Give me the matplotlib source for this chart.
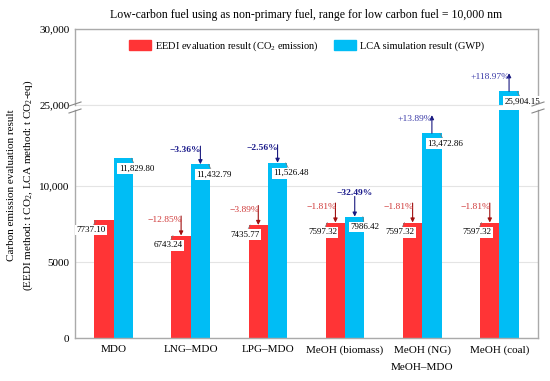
import matplotlib
matplotlib.use('Agg')
import matplotlib.pyplot as plt
from matplotlib.patches import Patch

plt.rcParams['font.family'] = ['Liberation Serif', 'DejaVu Serif']
plt.rcParams['mathtext.fontset'] = 'custom'
plt.rcParams['mathtext.rm'] = 'Liberation Serif'
plt.rcParams['mathtext.it'] = 'Liberation Serif:italic'

# data
categories = ['MDO', 'LNG\u2013MDO', 'LPG\u2013MDO', 'MeOH (biomass)', 'MeOH (NG)', 'MeOH (coal)']
eedi = [7737.10, 6743.24, 7435.77, 7597.32, 7597.32, 7597.32]
lca = [11829.80, 11432.79, 11526.48, 7986.42, 13472.86, 25904.15]
eedi_change = [None, '\u221212.85%', '\u22123.89%', '\u22121.81%', '\u22121.81%', '\u22121.81%']
lca_change = [None, '\u22123.36%', '\u22122.56%', '\u221232.49%', '+13.89%', '+118.97%']

red = '#FF3436'
blue = '#00BDF5'
grey = '#AAAAAA'

fig = plt.figure(figsize=(5.5, 3.81), dpi=100)
L, R = 75 / 550, 538 / 550
ax_top = fig.add_axes([L, 1 - 105 / 381, R - L, 76 / 381])
ax_bot = fig.add_axes([L, 1 - 338 / 381, R - L, 228 / 381])

w = 0.25
x = list(range(len(categories)))
for ax in (ax_top, ax_bot):
    ax.bar([i - w / 2 for i in x], eedi, w, color=red, zorder=2)
    ax.bar([i + w / 2 for i in x], lca, w, color=blue, zorder=2)
    ax.set_xlim(-0.5, len(categories) - 0.5)
    for s in ax.spines.values():
        s.set_color(grey)
        s.set_linewidth(1.0)
    ax.tick_params(axis='both', length=0, labelsize=8, pad=4)
    ax.grid(axis='y', color='#E4E4E4', linewidth=0.8, zorder=0)

ax_top.set_ylim(25000, 30000)
ax_top.set_yticks([25000, 30000], ['25,000', '30,000'])
ax_top.set_xticks([])
ax_top.spines['bottom'].set_visible(False)
ax_top.axhline(25000, color='#E4E4E4', linewidth=0.8, clip_on=False, zorder=0)

ax_bot.set_ylim(0, 15000)
ax_bot.set_yticks([0, 5000, 10000], ['0', '5000', '10,000'])
ax_bot.set_xticks(x, categories)
ax_bot.tick_params(axis='x', pad=5)
ax_bot.spines['top'].set_visible(False)

fig.text(422 / 550, 1 - 367 / 381, 'MeOH\u2013MDO', ha='center', va='center', fontsize=8)

# break marks
for xx in (L, R):
    for yy in (1 - 104 / 381, 1 - 111 / 381):
        fig.add_artist(plt.Line2D([xx - 6 / 550, xx + 6 / 550], [yy - 2 / 381, yy + 2 / 381],
                                  color='#888888', linewidth=0.8))


def fmt(v):
    return f'{v:,.2f}' if v >= 10000 else f'{v:.2f}'


def pick(v):
    return ax_top if v >= 25000 else ax_bot


for i in x:
    # value labels
    xr = i - w / 2
    ax = pick(eedi[i])
    ax.annotate(fmt(eedi[i]), xy=(xr - w / 2 + 0.02, eedi[i]), xytext=(7, -7),
                textcoords='offset points', ha='right', va='center', fontsize=6.5,
                bbox=dict(boxstyle='square,pad=0.15', fc='white', ec='none'),
                arrowprops=dict(arrowstyle='-', color='#777777', lw=0.5, shrinkA=0, shrinkB=0),
                zorder=5)
    xb = i + w / 2
    ax = pick(lca[i])
    ax.annotate(fmt(lca[i]), xy=(xb + w / 2 - 0.02, lca[i]), xytext=(-9, -7.5),
                textcoords='offset points', ha='left', va='center', fontsize=6.5,
                bbox=dict(boxstyle='square,pad=0.15', fc='white', ec='none'),
                arrowprops=dict(arrowstyle='-', color='#777777', lw=0.5, shrinkA=0, shrinkB=0),
                annotation_clip=False, zorder=5)

    # percent changes
    if eedi_change[i]:
        ax = pick(eedi[i])
        ax.annotate('', xy=(xr, eedi[i]), xytext=(0, 14), textcoords='offset points',
                    arrowprops=dict(arrowstyle='-|>', color='#A01010', lw=0.8,
                                    mutation_scale=6, shrinkA=0, shrinkB=0))
        ax.annotate(eedi_change[i], xy=(xr, eedi[i]), xytext=(0.5, 11),
                    textcoords='offset points', ha='right', va='center',
                    fontsize=6.8, color='#D03A3A')
    if lca_change[i]:
        ax = pick(lca[i])
        txt = lca_change[i]
        if txt.startswith('+'):
            ax.annotate('', xy=(xb, lca[i]), xytext=(0, 13), textcoords='offset points',
                        arrowprops=dict(arrowstyle='<|-', color='#1A1A80', lw=0.8,
                                        mutation_scale=6, shrinkA=0, shrinkB=0))
            ax.annotate(txt, xy=(xb, lca[i]), xytext=(0.5, 10.5),
                        textcoords='offset points', ha='right', va='center',
                        fontsize=6.8, color='#3C3CA8', annotation_clip=False)
        elif i == 3:
            ax.annotate('', xy=(xb, lca[i]), xytext=(0, 14.5), textcoords='offset points',
                        arrowprops=dict(arrowstyle='-|>', color='#1A1A80', lw=0.8,
                                        mutation_scale=6, shrinkA=0, shrinkB=0))
            ax.annotate(txt, xy=(xb, lca[i]), xytext=(0, 17),
                        textcoords='offset points', ha='center', va='center',
                        fontsize=6.8, color='#1C1C8C', fontweight='bold')
        else:
            ax.annotate('', xy=(xb, lca[i]), xytext=(0, 13), textcoords='offset points',
                        arrowprops=dict(arrowstyle='-|>', color='#1A1A80', lw=0.8,
                                        mutation_scale=6, shrinkA=0, shrinkB=0))
            ax.annotate(txt, xy=(xb, lca[i]), xytext=(0.5, 10.5),
                        textcoords='offset points', ha='right', va='center',
                        fontsize=6.8, color='#1C1C8C', fontweight='bold')

handles = [Patch(color=red, label='EEDI evaluation result (CO$_2$ emission)'),
           Patch(color=blue, label='LCA simulation result (GWP)')]
ax_top.legend(handles=handles, loc='upper center', bbox_to_anchor=(0.5, 1.0), ncol=2,
              frameon=False, fontsize=7.5, handlelength=2.1, handleheight=1.0,
              handletextpad=0.4, columnspacing=1.5, borderaxespad=0.6)

fig.text(306 / 550, 1 - 15 / 381,
         'Low-carbon fuel using as non-primary fuel, range for low carbon fuel = 10,000 nm',
         ha='center', va='center', fontsize=8.5)
fig.text(21 / 550, 1 - 185 / 381,
         'Carbon emission evaluation result\n(EEDI method: t CO$_2$, LCA method: t CO$_2$-eq)',
         ha='center', va='center', rotation=90, fontsize=8, linespacing=1.5)

fig.savefig('out.png', dpi=100)
